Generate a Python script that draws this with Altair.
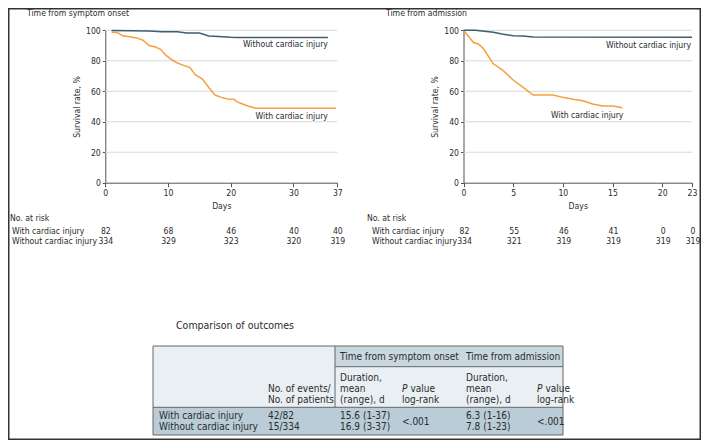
import altair as alt
import pandas as pd

FONT = "DejaVu Sans Condensed, Roboto, sans-serif"
ORANGE = "#F5A03E"
SLATE = "#3F5D6E"
TEXT = "#2b2b2b"
AXIS = "#555555"
GRID = "#d9d9d9"
KM_FS = 8.6
TB_FS = 10

groups = ["With cardiac injury", "Without cardiac injury"]

# ---- Time from symptom onset (Kaplan-Meier)
onset_with_days = [1, 1.9, 2.9, 3.9, 5, 6, 7, 8, 8.8, 9.7, 10.5, 11.5, 12.5, 13.5, 14.3,
                   15.5, 16.5, 17.5, 18.5, 19.5, 20.5, 21, 22, 23, 24, 36.8]
onset_with_surv = [98.8, 98.5, 96.2, 95.8, 95, 93.5, 90, 89, 87.5, 83.5, 81, 78.5, 77, 75.5, 71,
                   68, 62.5, 57.5, 56, 55, 54.8, 53, 51.5, 50, 48.8, 48.8]
onset_without_days = [1, 7, 9, 11.5, 13, 15, 16.5, 18, 20, 21, 35.5]
onset_without_surv = [99.8, 99.6, 99.1, 99.1, 98.3, 98.2, 96.3, 96, 95.4, 95.2, 95.2]

# ---- Time from admission
adm_with_days = [0, 1, 1.5, 2, 3, 4, 5, 6, 7, 9, 10, 11, 12, 13, 14, 15, 16]
adm_with_surv = [100, 92, 91, 88, 78, 73.5, 67.4, 62.6, 57.5, 57.5, 56, 54.7, 53.8, 51.6, 50.3, 50.3, 49.2]
adm_without_days = [0, 1.2, 3, 4, 5, 6, 7, 23]
adm_without_surv = [100, 100, 98.7, 97.4, 96.5, 96.3, 95.6, 95.4]

# ---- axis ticks
y_ticks = [0, 20, 40, 60, 80, 100]
grid_vals = [20, 40, 60, 80, 100]
onset_ticks = [0, 10, 20, 30, 37]
adm_ticks = [0, 5, 10, 15, 20, 23]

# ---- numbers at risk
onset_risk_with = [82, 68, 46, 40, 40]
onset_risk_without = [334, 329, 323, 320, 319]
adm_risk_with = [82, 55, 46, 41, 0, 0]
adm_risk_without = [334, 321, 319, 319, 319, 319]

# ---- line label anchors (day, survival)
onset_label_days = [35.5, 35.5]
onset_label_surv = [44.0, 90.8]
adm_label_days = [16.1, 22.9]
adm_label_surv = [44.4, 90.2]

# ---- comparison table: (column, row, text)
table_cells = [
    (3, 1, "Time from symptom onset"), (5, 1, "Time from admission"),
    (3, 2, "Duration,"), (5, 2, "Duration,"),
    (2, 3, "No. of events/"), (3, 3, "mean"), (5, 3, "mean"),
    (2, 4, "No. of patients"), (3, 4, "(range), d"), (4, 4, "log-rank"),
    (5, 4, "(range), d"), (6, 4, "log-rank"),
    (1, 5, "With cardiac injury"), (2, 5, "42/82"), (3, 5, "15.6 (1-37)"), (5, 5, "6.3 (1-16)"),
    (4, 6, "<.001"), (6, 6, "<.001"),
    (1, 7, "Without cardiac injury"), (2, 7, "15/334"), (3, 7, "16.9 (3-37)"), (5, 7, "7.8 (1-23)"),
]
pvalue_cols = [4, 6]
pvalue_row = 3

# ---------------------------------------------------------------- layout (pixels)
YS = alt.Scale(domain=[0, 100], range=[174.7, 22.3], nice=False, zero=False)
LX = alt.Scale(domain=[0, 37], range=[97.3, 329.3], nice=False, zero=False)
RX = alt.Scale(domain=[0, 23], range=[455.5, 684], nice=False, zero=False)
RISKY = alt.Scale(type="point", domain=groups, range=[223, 233], padding=0)
TX = alt.Scale(type="linear", domain=[1, 2, 3, 4, 5, 6], range=[151, 260, 332, 394, 458, 529],
               nice=False, zero=False)
TY = alt.Scale(type="linear", domain=[1, 2, 3, 4, 5, 6, 7],
               range=[349, 370, 381, 392, 408, 413.5, 419], nice=False, zero=False)

one = alt.Data(values=[{}])


def km_df(days, surv, group):
    return pd.DataFrame({"day": days, "surv": surv, "group": group})


def fixed_text(txt, x, y, size=KM_FS, align="left", style="normal", color=TEXT):
    return alt.Chart(one).mark_text(text=txt, align=align, baseline="middle", font=FONT,
                                    fontSize=size, fontStyle=style, color=color).encode(
        x=alt.value(x), y=alt.value(y))


def panel(df, xscale, ticks, y_offset, title, title_x, lab_days, lab_surv,
          risk_with, risk_without, risk_dx, risk_label_x, nar_x):
    grid = alt.Chart(pd.DataFrame({"v": grid_vals})).mark_rule(color=GRID, strokeWidth=1).encode(
        y=alt.Y("v:Q", scale=YS, axis=None),
        x=alt.XDatum(ticks[0], scale=xscale, axis=None),
        x2=alt.X2Datum(ticks[-1]),
    )
    lines = alt.Chart(df).mark_line(strokeWidth=1.5).encode(
        x=alt.X("day:Q", scale=xscale,
                axis=alt.Axis(values=ticks, orient="bottom", offset=174.7 - 432, title="Days",
                              titlePadding=4, tickSize=4, labelPadding=2, grid=False,
                              labelFlush=False, labelOverlap=False)),
        y=alt.Y("surv:Q", scale=YS,
                axis=alt.Axis(values=y_ticks, orient="left", offset=-y_offset,
                              title="Survival rate, %", titlePadding=4, tickSize=3,
                              labelPadding=2, grid=False)),
        color=alt.Color("group:N", scale=alt.Scale(domain=groups, range=[ORANGE, SLATE]),
                        legend=None),
    )
    labels = alt.Chart(pd.DataFrame({"day": lab_days, "surv": lab_surv, "group": groups})).mark_text(
        align="right", baseline="middle", font=FONT, fontSize=KM_FS, color=TEXT).encode(
        x=alt.X("day:Q", scale=xscale, axis=None),
        y=alt.Y("surv:Q", scale=YS, axis=None),
        text="group:N",
    )
    risk_df = pd.concat([
        pd.DataFrame({"day": ticks, "n": risk_with, "group": groups[0]}),
        pd.DataFrame({"day": ticks, "n": risk_without, "group": groups[1]}),
    ])
    risk = alt.Chart(risk_df).mark_text(align="center", baseline="middle", font=FONT, fontSize=KM_FS,
                                        color=TEXT, dx=risk_dx).encode(
        x=alt.X("day:Q", scale=xscale, axis=None),
        y=alt.Y("group:N", scale=RISKY, axis=None),
        text="n:Q",
    )
    risk_lab = alt.Chart(pd.DataFrame({"group": groups})).mark_text(
        align="left", baseline="middle", font=FONT, fontSize=KM_FS, color=TEXT).encode(
        x=alt.value(risk_label_x),
        y=alt.Y("group:N", scale=RISKY, axis=None),
        text="group:N",
    )
    return [grid, lines, labels, risk, risk_lab,
            fixed_text(title, title_x, 5),
            fixed_text("No. at risk", nar_x, 210)]


onset_df = pd.concat([km_df(onset_with_days, onset_with_surv, groups[0]),
                      km_df(onset_without_days, onset_without_surv, groups[1])])
adm_df = pd.concat([km_df(adm_with_days, adm_with_surv, groups[0]),
                    km_df(adm_without_days, adm_without_surv, groups[1])])

left = panel(onset_df, LX, onset_ticks, 97.3, "Time from symptom onset", 19,
             onset_label_days, onset_label_surv, onset_risk_with, onset_risk_without, 0.5, 4, 2)
right = panel(adm_df, RX, adm_ticks, 455.5, "Time from admission", 378,
              adm_label_days, adm_label_surv, adm_risk_with, adm_risk_without, 1, 364, 359)

# ---------------------------------------------------------------- table
def box(x, x2, y, y2, fill):
    return alt.Chart(one).mark_rect(fill=fill).encode(
        x=alt.value(x), x2=alt.value(x2), y=alt.value(y), y2=alt.value(y2))


def hline(x, x2, y, color="#666666", w=1):
    return alt.Chart(one).mark_rule(color=color, strokeWidth=w).encode(
        x=alt.value(x), x2=alt.value(x2), y=alt.value(y))


def vline(x, y, y2, color="#666666", w=1):
    return alt.Chart(one).mark_rule(color=color, strokeWidth=w).encode(
        x=alt.value(x), y=alt.value(y), y2=alt.value(y2))


T_L, T_R, T_T, T_B = 145, 555, 338, 427
T_C3, T_H1, T_H2 = 327, 358.7, 399.3

table_bg = [
    box(T_L, T_R, T_T, T_H2, "#e9eff3"),
    box(T_C3, T_R, T_T, T_H1, "#c8d7e0"),
    box(T_L, T_R, T_H2, T_B, "#b9ccd7"),
    hline(T_C3, T_R, T_H1),
    hline(T_L, T_R, T_H2),
    vline(T_C3, T_T, T_H2),
    alt.Chart(one).mark_rect(fill=None, stroke="#666666", strokeWidth=1).encode(
        x=alt.value(T_L), x2=alt.value(T_R), y=alt.value(T_T), y2=alt.value(T_B)),
]

cells_df = pd.DataFrame(table_cells, columns=["col", "row", "text"])
cells = alt.Chart(cells_df).mark_text(align="left", baseline="middle", font=FONT, fontSize=TB_FS,
                                      color=TEXT).encode(
    x=alt.X("col:Q", scale=TX, axis=None),
    y=alt.Y("row:Q", scale=TY, axis=None),
    text="text:N",
)
pv_df = pd.DataFrame({"col": pvalue_cols, "row": [pvalue_row] * len(pvalue_cols)})
p_it = alt.Chart(pv_df).mark_text(text="P", align="left", baseline="middle", font=FONT, fontSize=TB_FS,
                                  fontStyle="italic", color=TEXT).encode(
    x=alt.X("col:Q", scale=TX, axis=None), y=alt.Y("row:Q", scale=TY, axis=None))
p_val = alt.Chart(pv_df).mark_text(text="value", align="left", baseline="middle", font=FONT,
                                   fontSize=TB_FS, color=TEXT, dx=8.5).encode(
    x=alt.X("col:Q", scale=TX, axis=None), y=alt.Y("row:Q", scale=TY, axis=None))

frame = alt.Chart(one).mark_rect(fill=None, stroke="#333333", strokeWidth=1.5).encode(
    x=alt.value(0.75), x2=alt.value(692.25), y=alt.value(0.75), y2=alt.value(431.25))

layers = (left + right + table_bg + [cells, p_it, p_val,
                                     fixed_text("Comparison of outcomes", 168, 318, size=10.5),
                                     frame])

chart = alt.layer(*layers).resolve_scale(
    x="independent", y="independent"
).properties(
    width=693, height=432, padding=0, autosize=alt.AutoSizeParams(type="none"),
    background="white",
).configure_view(stroke=None).configure_axis(
    labelFont=FONT, titleFont=FONT, labelFontSize=KM_FS, titleFontSize=KM_FS,
    titleFontWeight="normal", labelColor=TEXT, titleColor=TEXT,
    domainColor=AXIS, tickColor=AXIS, domainWidth=1,
)

chart.save("out.html", embed_options={"renderer": "svg", "actions": False})
